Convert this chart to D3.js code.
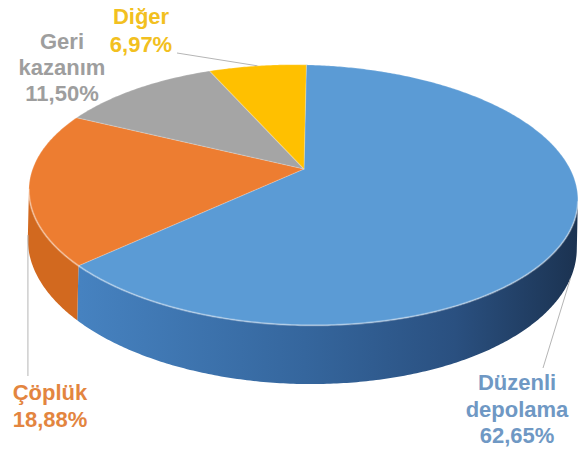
<!DOCTYPE html>
<html>
<head>
<meta charset="utf-8">
<script src="https://cdn.jsdelivr.net/npm/d3@7"></script>
<style>
  body { margin: 0; background: #fff; }
  text { font-family: "Liberation Sans", Arial, sans-serif; font-weight: bold; }
</style>
</head>
<body>
<div id="pie-chart"></div>
<script>
const categories = ["Düzenli depolama", "Çöplük", "Geri kazanım", "Diğer"];
const values = [62.65, 18.88, 11.50, 6.97];
const topColors = ["#5b9bd5", "#ed7d31", "#a5a5a5", "#ffc000"];
const labelColors = ["#6f98c4", "#e3853f", "#9e9e9e", "#f2c020"];

const width = 579, height = 454;

// 3d look: ellipse with a bit of perspective and a small tilt
const cx = 304, cy = 169, rx = 269, ry = 125, persp = 0.2, depth = 47;
const rot = 1.3 * Math.PI / 180;

function proj(a, h) {
  const u = Math.sin(a), v = -Math.cos(a);
  const k = 1 / (1 - persp * v);
  const x = rx * u * k, y = (ry * v + depth * h) * k;
  return [cx + x * Math.cos(rot) - y * Math.sin(rot),
          cy + x * Math.sin(rot) + y * Math.cos(rot)];
}

// front part of the rim that can be seen
const aLeft = Math.acos(-persp), aRight = 2 * Math.PI - Math.acos(-persp);

function arcPoints(a0, a1, h) {
  const n = Math.max(2, Math.ceil(Math.abs(a1 - a0) / 0.01));
  return d3.range(n + 1).map(i => proj(a0 + (a1 - a0) * i / n, h));
}

const svg = d3.select("#pie-chart")
  .append("svg")
    .attr("width", width)
    .attr("height", height);

const defs = svg.append("defs");
const sideGrads = [
  [["0", "#4682c0"], ["0.45", "#35669d"], ["0.75", "#2a5080"], ["1", "#1b3250"]],
  [["0", "#d2691f"], ["1", "#c25d18"]],
  [["0", "#8e8e8e"], ["1", "#8e8e8e"]],
  [["0", "#d9a300"], ["1", "#d9a300"]]
];
sideGrads.forEach((stops, i) => {
  const g = defs.append("linearGradient")
    .attr("id", "side" + i)
    .attr("gradientUnits", "userSpaceOnUse")
    .attr("x1", 80).attr("x2", 580).attr("y1", 0).attr("y2", 0);
  stops.forEach(s => g.append("stop").attr("offset", s[0]).attr("stop-color", s[1]));
});

const pie = d3.pie().sort(null).value(d => d);
const arcs = pie(values);
const line = d3.line();

// sides
arcs.forEach((d, i) => {
  const a0 = Math.max(d.startAngle, aLeft), a1 = Math.min(d.endAngle, aRight);
  if (a0 >= a1) return;
  const pts = arcPoints(a0, a1, 0).concat(arcPoints(a1, a0, 1));
  svg.append("path")
    .attr("d", line(pts) + "Z")
    .attr("fill", `url(#side${i})`);
});

// tops
arcs.forEach((d, i) => {
  const pts = [[cx, cy]].concat(arcPoints(d.startAngle, d.endAngle, 0));
  svg.append("path")
    .attr("d", line(pts) + "Z")
    .attr("fill", topColors[i])
    .attr("stroke", "rgba(255,255,255,0.18)")
    .attr("stroke-width", 1.2)
    .attr("stroke-linejoin", "round");
});

// light rim on the front edge
svg.append("path")
  .attr("d", line(arcPoints(aLeft, aRight, 0)))
  .attr("fill", "none")
  .attr("stroke", "rgba(255,255,255,0.3)")
  .attr("stroke-width", 2);

// labels
const fmt = v => d3.format(".2f")(v).replace(".", ",") + "%";
const labelLayout = [
  {x: 517, y: 390, step: 26.5, end: [543, 368], h: 1},
  {x: 50, y: 400, step: 27, end: null, h: 1},
  {x: 62, y: 49, step: 26, end: null, h: 0},
  {x: 141, y: 24, step: 28, end: [177, 53], h: 0}
];

arcs.forEach((d, i) => {
  const L = labelLayout[i];
  const mid = (d.startAngle + d.endAngle) / 2;
  const start = proj(mid, L.h);
  let end = L.end;
  if (i === 1) end = [start[0], 376];
  if (end) {
    svg.append("line")
      .attr("x1", start[0]).attr("y1", start[1])
      .attr("x2", end[0]).attr("y2", end[1])
      .attr("stroke", "#b5b5b5")
      .attr("stroke-width", 1);
  }
  const lines = categories[i].split(" ").concat([fmt(values[i])]);
  const t = svg.append("text")
    .attr("text-anchor", "middle")
    .attr("font-size", 22)
    .attr("fill", labelColors[i]);
  lines.forEach((s, j) => {
    t.append("tspan").attr("x", L.x).attr("y", L.y + j * L.step).text(s);
  });
});
</script>
</body>
</html>
